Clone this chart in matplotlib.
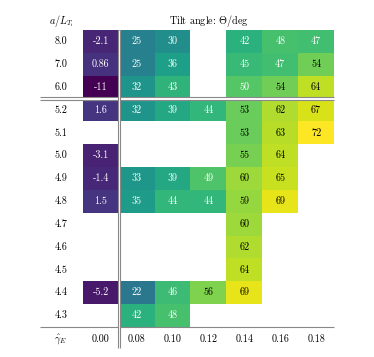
import numpy as np
import matplotlib
matplotlib.use('Agg')
import matplotlib.pyplot as plt

plt.rcParams['font.family'] = 'serif'
plt.rcParams['font.serif'] = ['cmr10']
plt.rcParams['mathtext.fontset'] = 'cm'
plt.rcParams['axes.unicode_minus'] = False

gamma_E = ['0.00', '0.08', '0.10', '0.12', '0.14', '0.16', '0.18']
a_LTi = ['8.0', '7.0', '6.0', '5.2', '5.1', '5.0', '4.9', '4.8', '4.7', '4.6', '4.5', '4.4', '4.3']
nan = np.nan
tilt = np.array([
    [-2.1, 25, 30, nan, 42, 48, 47],
    [0.86, 25, 36, nan, 45, 47, 54],
    [-11, 32, 43, nan, 50, 54, 64],
    [1.6, 32, 39, 44, 53, 62, 67],
    [nan, nan, nan, nan, 53, 63, 72],
    [-3.1, nan, nan, nan, 55, 64, nan],
    [-1.4, 33, 39, 49, 60, 65, nan],
    [1.5, 35, 44, 44, 59, 69, nan],
    [nan, nan, nan, nan, 60, nan, nan],
    [nan, nan, nan, nan, 62, nan, nan],
    [nan, nan, nan, nan, 64, nan, nan],
    [-5.2, 22, 46, 56, 69, nan, nan],
    [nan, 42, 48, nan, nan, nan, nan],
])

W, H = 374, 357
fig = plt.figure(figsize=(W / 100, H / 100), dpi=100)
x0, x1, y0, y1 = 83, 334, 30, 327
ax = fig.add_axes([x0 / W, 1 - y1 / H, (x1 - x0) / W, (y1 - y0) / H])

nr, nc = tilt.shape
data = np.ma.masked_invalid(tilt)
ax.imshow(data, cmap='viridis', vmin=np.nanmin(tilt), vmax=np.nanmax(tilt),
          aspect='auto', interpolation='nearest')
ax.set_xlim(-0.5, nc - 0.5)
ax.set_ylim(nr - 0.5, -0.5)
for s in ax.spines.values():
    s.set_visible(False)
ax.set_xticks([])
ax.set_yticks([])

cw = (x1 - x0) / nc
rh = (y1 - y0) / nr
def dx(px):
    return (px - x0) / cw - 0.5
def dy(py):
    return (py - y0) / rh - 0.5

fs = 7.3
for i in range(nr):
    for j in range(nc):
        v = tilt[i, j]
        if np.isnan(v):
            continue
        ax.text(j, i, f"{v:.2g}", ha='center', va='center', fontsize=fs,
                color='black' if v >= 51 else 'white')

lab_x = dx(61)
for i, lab in enumerate(a_LTi):
    ax.text(lab_x, i, lab, ha='center', va='center', fontsize=fs, clip_on=False)
xl_y = dy(339)
for j, lab in enumerate(gamma_E):
    ax.text(j, xl_y, lab, ha='center', va='center', fontsize=fs, clip_on=False)
ax.text(lab_x, xl_y, r"$\hat{\gamma}_E$", ha='center', va='center', fontsize=fs, clip_on=False)
ax.text(lab_x, dy(21), r"$a/L_{T_{\mathrm{i}}}$", ha='center', va='center', fontsize=fs, clip_on=False)
ax.text((nc - 1) / 2, dy(21), r"Tilt angle: $\Theta/\mathrm{deg}$", ha='center', va='center',
        fontsize=fs, clip_on=False)

gray = '#888888'
xl, xr = dx(40), nc - 0.5
# horizontal double line
hb = 2.5
off = 1.05 / rh
ax.plot([xl, xr], [hb, hb], color='white', lw=2.2, clip_on=False, solid_capstyle='butt')
for o in (-off, off):
    ax.plot([xl, xr], [hb + o, hb + o], color=gray, lw=0.8, clip_on=False, solid_capstyle='butt')
# bottom line
ax.plot([xl, xr], [nr - 0.5, nr - 0.5], color=gray, lw=0.8, clip_on=False, solid_capstyle='butt')
# vertical double line
vb = 0.5
offx = 1.0 / cw
yb = dy(348)
ax.plot([vb, vb], [-0.5, yb], color='white', lw=2.0, clip_on=False, solid_capstyle='butt')
for o in (-offx, offx):
    ax.plot([vb + o, vb + o], [-0.5, yb], color=gray, lw=0.8, clip_on=False, solid_capstyle='butt')

fig.savefig('out.png', dpi=100)
